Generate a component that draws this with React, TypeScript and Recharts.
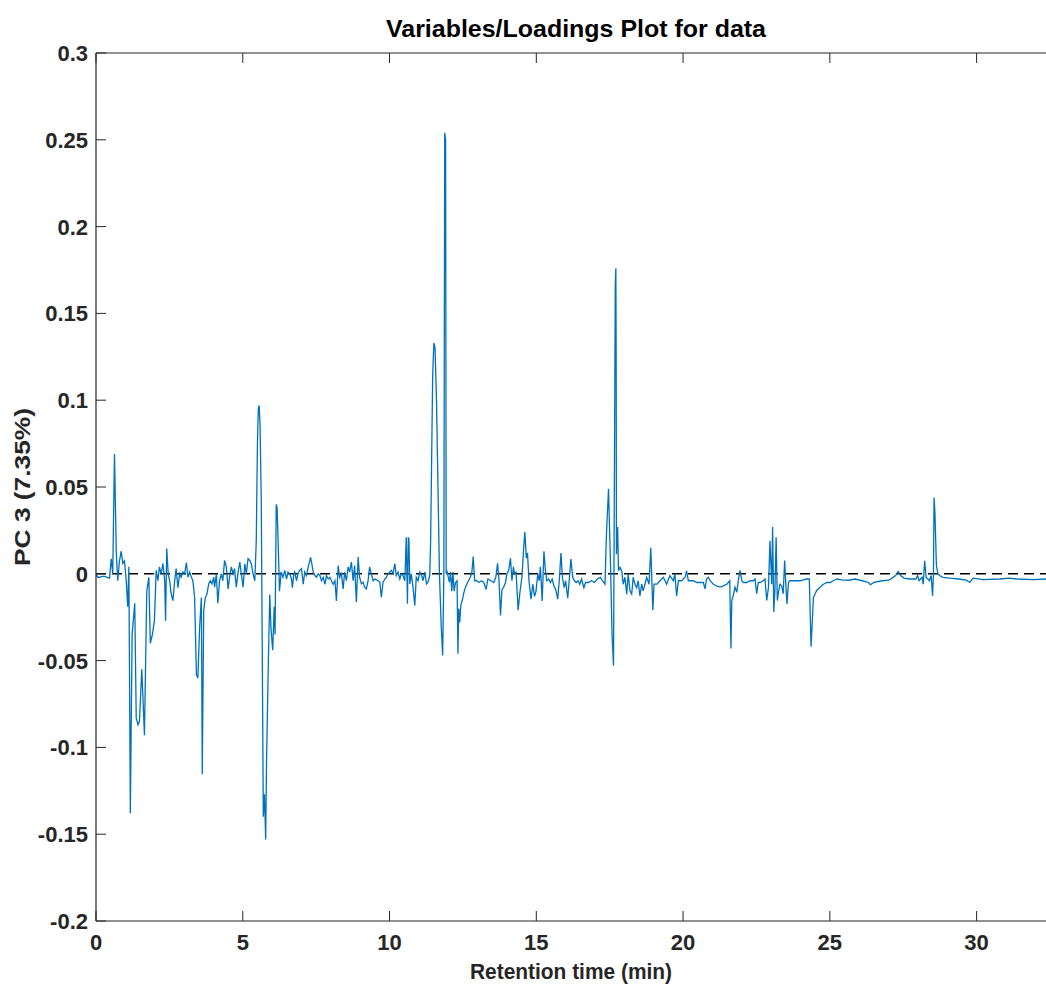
import React from 'react';
import { LineChart, Line, XAxis, YAxis, ReferenceLine } from 'recharts';

const times = [
  0.00, 0.06, 0.12, 0.20, 0.29, 0.38, 0.46, 0.52, 0.57, 0.63, 0.69, 0.74, 0.80, 0.86, 0.91, 0.97,
  1.03, 1.08, 1.12, 1.17, 1.23, 1.32, 1.37, 1.43, 1.48, 1.56, 1.65, 1.73, 1.80, 1.85, 1.92, 1.99,
  2.05, 2.11, 2.16, 2.22, 2.28, 2.34, 2.37, 2.41, 2.46, 2.51, 2.56, 2.62, 2.68, 2.73, 2.79, 2.85,
  2.90, 2.96, 3.02, 3.08, 3.13, 3.19, 3.25, 3.30, 3.36, 3.42, 3.47, 3.53, 3.59, 3.62, 3.67, 3.72,
  3.78, 3.84, 3.89, 3.95, 4.01, 4.04, 4.10, 4.15, 4.21, 4.27, 4.32, 4.38, 4.44, 4.50, 4.55, 4.61,
  4.67, 4.72, 4.78, 4.84, 4.90, 4.95, 5.01, 5.07, 5.12, 5.18, 5.24, 5.29, 5.35, 5.41, 5.46, 5.50,
  5.53, 5.56, 5.59, 5.63, 5.67, 5.70, 5.74, 5.78, 5.81, 5.87, 5.92, 5.96, 6.02, 6.07, 6.10, 6.14,
  6.17, 6.21, 6.25, 6.31, 6.37, 6.43, 6.49, 6.54, 6.60, 6.66, 6.69, 6.74, 6.77, 6.83, 6.88, 6.94,
  7.00, 7.06, 7.11, 7.17, 7.23, 7.31, 7.36, 7.40, 7.46, 7.51, 7.57, 7.63, 7.68, 7.74, 7.80, 7.85,
  7.91, 7.97, 8.02, 8.08, 8.14, 8.19, 8.25, 8.30, 8.36, 8.42, 8.47, 8.53, 8.59, 8.64, 8.70, 8.76,
  8.81, 8.87, 8.93, 8.98, 9.04, 9.10, 9.15, 9.21, 9.27, 9.32, 9.38, 9.44, 9.50, 9.55, 9.61, 9.67,
  9.72, 9.78, 9.84, 9.89, 9.95, 10.01, 10.06, 10.12, 10.18, 10.23, 10.29, 10.35, 10.40, 10.46, 10.52, 10.57,
  10.61, 10.64, 10.66, 10.69, 10.74, 10.80, 10.86, 10.91, 10.97, 11.03, 11.09, 11.14, 11.20, 11.26, 11.31, 11.37,
  11.40, 11.43, 11.47, 11.51, 11.55, 11.60, 11.65, 11.70, 11.76, 11.81, 11.85, 11.88, 11.91, 11.93, 11.95, 11.99,
  12.04, 12.08, 12.12, 12.16, 12.20, 12.25, 12.30, 12.33, 12.36, 12.39, 12.43, 12.48, 12.53, 12.58, 12.63, 12.69,
  12.75, 12.80, 12.85, 12.90, 12.97, 13.05, 13.13, 13.21, 13.29, 13.35, 13.45, 13.55, 13.62, 13.68, 13.73, 13.78,
  13.83, 13.88, 13.95, 14.00, 14.06, 14.12, 14.17, 14.22, 14.26, 14.31, 14.38, 14.44, 14.51, 14.57, 14.61, 14.66,
  14.70, 14.75, 14.82, 14.88, 14.94, 14.99, 15.05, 15.10, 15.14, 15.20, 15.26, 15.31, 15.36, 15.42, 15.48, 15.54,
  15.60, 15.66, 15.73, 15.79, 15.84, 15.89, 15.95, 16.00, 16.07, 16.12, 16.18, 16.24, 16.30, 16.36, 16.42, 16.48,
  16.54, 16.62, 16.68, 16.78, 16.88, 16.98, 17.08, 17.18, 17.25, 17.30, 17.34, 17.39, 17.46, 17.53, 17.58, 17.63,
  17.67, 17.69, 17.71, 17.72, 17.73, 17.77, 17.80, 17.85, 17.91, 17.96, 18.02, 18.08, 18.13, 18.19, 18.25, 18.30,
  18.36, 18.42, 18.47, 18.53, 18.59, 18.64, 18.70, 18.76, 18.84, 18.90, 18.97, 19.01, 19.11, 19.21, 19.33, 19.44,
  19.55, 19.67, 19.72, 19.78, 19.84, 19.95, 20.07, 20.12, 20.18, 20.35, 20.47, 20.58, 20.69, 20.75, 20.80, 20.86,
  20.92, 21.03, 21.14, 21.26, 21.37, 21.49, 21.54, 21.59, 21.63, 21.66, 21.71, 21.77, 21.83, 21.88, 21.94, 22.00,
  22.05, 22.17, 22.28, 22.39, 22.45, 22.51, 22.56, 22.62, 22.73, 22.79, 22.85, 22.91, 22.96, 23.02, 23.05, 23.09,
  23.13, 23.17, 23.21, 23.26, 23.30, 23.36, 23.41, 23.46, 23.51, 23.54, 23.59, 23.64, 23.76, 23.87, 23.99, 24.10,
  24.21, 24.30, 24.36, 24.42, 24.44, 24.50, 24.55, 24.67, 24.78, 24.90, 25.01, 25.12, 25.24, 25.40, 25.64, 25.86,
  26.10, 26.32, 26.38, 26.50, 26.78, 27.01, 27.12, 27.24, 27.33, 27.41, 27.53, 27.70, 27.93, 27.99, 28.04, 28.14,
  28.18, 28.23, 28.28, 28.39, 28.45, 28.50, 28.53, 28.55, 28.58, 28.63, 28.68, 28.74, 28.85, 29.08, 29.40, 29.65,
  29.77, 29.88, 30.22, 30.80, 31.09, 31.37, 31.95, 32.37,
];

const loadings = [
  0, -0.002, -0.002, -0.0015, -0.0015, -0.002, -0.0025, 0.0087, 0.0, 0.069, 0.013, -0.004, 0.0075, 0.013, 0.006, 0.0075,
  -0.004, -0.019, 0.004, -0.138, -0.035, -0.017, -0.083, -0.087, -0.085, -0.055, -0.093, -0.010, -0.002, -0.040, -0.035, -0.027,
  0.002, -0.004, 0.004, 0.0, 0.006, -0.004, -0.027, 0.0145, 0.0, -0.004, -0.0115, -0.0155, -0.004, 0.003, -0.008, 0.0,
  -0.002, 0.001, 0.0, 0.0065, -0.002, 0.001, -0.002, -0.004, -0.0137, -0.058, -0.060, -0.031, -0.0137, -0.1155, -0.021, -0.014,
  -0.0115, -0.0058, -0.004, -0.0058, -0.002, -0.0077, 0.0, -0.017, -0.004, 0.0, -0.004, 0.0077, 0.004, -0.0087, -0.002, 0.004,
  0.0, 0.003, -0.0077, 0.001, 0.0067, 0.0, -0.0077, 0.0058, 0.0, 0.0087, 0.0077, 0.0058, 0.0, -0.004, 0.019, 0.075,
  0.095, 0.097, 0.085, 0.042, -0.06, -0.140, -0.127, -0.153, -0.108, -0.052, -0.012, -0.031, -0.044, -0.019, -0.035, 0.040,
  0.038, 0.015, -0.010, 0.001, -0.002, 0.002, -0.003, 0.001, 0.0, -0.003, -0.008, 0.0, 0.001, -0.004, 0.0, 0.002,
  0.003, -0.006, 0.001, -0.001, 0.004, 0.0094, 0.005, 0.001, -0.001, -0.002, 0.0, -0.001, -0.004, -0.002, -0.006, -0.001,
  -0.003, -0.002, -0.004, -0.006, -0.004, -0.0156, 0.0048, -0.002, 0.0, -0.0087, 0.001, -0.004, 0.004, 0.001, 0.0067, -0.004,
  0.0048, -0.0163, 0.0096, -0.002, -0.0058, -0.0048, -0.0077, -0.0087, -0.004, 0.004, 0.0, -0.004, -0.003, -0.0035, -0.004, -0.0048,
  -0.0135, -0.0048, -0.003, -0.002, 0.0, 0.001, 0.002, 0.0, 0.0058, -0.001, 0.001, -0.003, 0.0, -0.001, -0.004, 0.021,
  -0.0173, 0.021, 0.020, -0.0058, 0.0, -0.0077, -0.0183, -0.002, -0.004, 0.001, -0.001, -0.004, 0.001, -0.0058, -0.0048, -0.001,
  0.019, 0.060, 0.115, 0.133, 0.130, 0.100, 0.050, 0.000, -0.030, -0.047, 0.000, 0.254, 0.250, 0.000, 0.002, -0.001,
  -0.005, 0.001, -0.010, 0.001, -0.010, -0.005, -0.004, -0.046, -0.020, -0.028, -0.018, -0.015, -0.011, -0.008, -0.006, -0.004,
  -0.002, 0.0, 0.010, -0.004, -0.004, -0.005, -0.004, -0.005, -0.009, -0.003, -0.004, -0.005, -0.002, 0.006, -0.004, -0.024,
  -0.009, -0.008, -0.005, 0.0, 0.002, 0.009, -0.004, 0.004, 0.0, 0.001, -0.021, -0.011, -0.002, 0.015, 0.024, 0.009,
  0.012, -0.004, -0.0146, -0.006, -0.013, -0.010, 0.0, -0.004, 0.004, -0.0156, 0.013, 0.002, -0.004, -0.003, -0.005, -0.003,
  -0.007, -0.009, -0.0146, -0.002, 0.012, -0.002, -0.008, -0.004, -0.014, -0.004, 0.0085, -0.002, -0.004, -0.005, -0.004, -0.006,
  -0.003, -0.008, -0.005, -0.005, -0.004, -0.005, -0.003, -0.002, -0.004, -0.005, -0.006, 0.023, 0.049, 0.004, -0.035, -0.053,
  0.090, 0.167, 0.176, 0.129, 0.0113, 0.027, 0.0017, 0.0037, 0.0017, -0.006, -0.002, -0.0117, 0.0, -0.0098, -0.0117, -0.002,
  -0.006, -0.008, -0.004, -0.0127, -0.006, -0.0098, -0.006, -0.002, -0.006, 0.015, -0.021, -0.006, -0.006, -0.004, -0.002, -0.006,
  -0.001, -0.004, 0.0, -0.0127, -0.004, -0.004, -0.002, 0.0017, -0.004, -0.004, -0.005, -0.005, -0.005, -0.0087, -0.003, -0.002,
  -0.004, -0.006, -0.007, -0.0077, -0.007, -0.006, -0.005, -0.004, -0.043, -0.0154, -0.0125, -0.0077, -0.0106, -0.004, 0.002, -0.004,
  -0.005, -0.005, -0.004, -0.004, -0.003, -0.0115, -0.005, -0.005, -0.004, -0.003, -0.0154, -0.0077, 0.019, -0.006, 0.027, -0.022,
  -0.0087, 0.021, -0.0154, -0.0096, -0.006, -0.007, -0.0115, 0.0077, -0.0096, -0.0173, -0.005, -0.004, -0.004, -0.004, -0.004, -0.0035,
  -0.003, -0.003, -0.042, -0.021, -0.0135, -0.0115, -0.0096, -0.0077, -0.006, -0.005, -0.005, -0.004, -0.003, -0.0035, -0.0037, -0.003,
  -0.004, -0.005, -0.0063, -0.005, -0.004, -0.0037, -0.0025, -0.001, 0.0013, -0.001, -0.0025, -0.003, -0.003, -0.001, -0.004, -0.002,
  -0.006, 0.0075, -0.002, -0.004, -0.001, -0.0127, 0.0, 0.044, 0.035, 0.005, 0.0, -0.001, -0.002, -0.0025, -0.003, -0.0037,
  -0.005, -0.0025, -0.0033, -0.003, -0.0025, -0.003, -0.0033, -0.003,
];

const xTicks = [0, 5, 10, 15, 20, 25, 30];
const yTicks = [-0.2, -0.15, -0.1, -0.05, 0, 0.05, 0.1, 0.15, 0.2, 0.25, 0.3];

const titleText = 'Variables/Loadings Plot for data';
const xLabelText = 'Retention time (min)';
const yLabelText = 'PC 3 (7.35%)';

const data = times.map((t, i) => ({ t, v: loadings[i] }));

const FONT = '"Liberation Sans", Arial, Helvetica, sans-serif';
const AXIS = '#262626';
const TICK_LEN = 10;
const X_GAP = 13;
const Y_GAP = 8;

const fmt = (v: number) => String(Math.round(v * 100) / 100);

const BottomTick = (props: any) => {
  const { x, y, payload } = props;
  const axisY = y - X_GAP;
  return (
    <g>
      <line x1={x} y1={axisY} x2={x} y2={axisY - TICK_LEN} stroke={AXIS} strokeWidth={1} />
      <text x={x} y={y} dy="0.71em" textAnchor="middle" fontSize={22} fontWeight="bold" fill={AXIS} fontFamily={FONT}>
        {fmt(payload.value)}
      </text>
    </g>
  );
};

const TopTick = (props: any) => {
  const { x, y } = props;
  return <line x1={x} y1={y} x2={x} y2={y + TICK_LEN} stroke={AXIS} strokeWidth={1} />;
};

const LeftTick = (props: any) => {
  const { x, y, payload } = props;
  const axisX = x + Y_GAP;
  return (
    <g>
      <line x1={axisX} y1={y} x2={axisX + TICK_LEN} y2={y} stroke={AXIS} strokeWidth={1} />
      <text x={x} y={y} dy="0.36em" textAnchor="end" fontSize={22} fontWeight="bold" fill={AXIS} fontFamily={FONT}>
        {fmt(payload.value)}
      </text>
    </g>
  );
};

export default function App() {
  return (
    <div style={{ position: 'absolute', left: 0, top: 0, width: 1046, height: 988, overflow: 'hidden', background: '#fff', fontFamily: FONT }}>
      <LineChart width={1060} height={988} data={data} margin={{ top: 52, right: 10, bottom: 0, left: 0 }}>
        <XAxis
          xAxisId="b"
          dataKey="t"
          type="number"
          domain={[0, 32.5]}
          ticks={xTicks}
          orientation="bottom"
          height={67}
          tickSize={0}
          tickMargin={X_GAP}
          tick={<BottomTick />}
          tickLine={false}
          axisLine={{ stroke: AXIS, strokeWidth: 1.2 }}
          allowDataOverflow
        />
        <XAxis
          xAxisId="t"
          dataKey="t"
          type="number"
          domain={[0, 32.5]}
          ticks={xTicks}
          orientation="top"
          height={1}
          tickSize={0}
          tickMargin={0}
          tick={<TopTick />}
          tickLine={false}
          axisLine={{ stroke: AXIS, strokeWidth: 1.2 }}
          allowDataOverflow
        />
        <YAxis
          dataKey="v"
          type="number"
          domain={[-0.2, 0.3]}
          ticks={yTicks}
          width={96}
          tickSize={0}
          tickMargin={Y_GAP}
          tick={<LeftTick />}
          tickLine={false}
          axisLine={{ stroke: AXIS, strokeWidth: 1.2 }}
          allowDataOverflow
        />
        <ReferenceLine xAxisId="b" y={0} stroke="#000" strokeWidth={1.5} strokeDasharray="10 6" />
        <Line
          xAxisId="b"
          type="linear"
          dataKey="v"
          stroke="#0072BD"
          strokeWidth={1.3}
          dot={false}
          isAnimationActive={false}
        />
        <Line
          xAxisId="t"
          type="linear"
          dataKey="v"
          stroke="none"
          dot={false}
          legendType="none"
          isAnimationActive={false}
        />
      </LineChart>
      <svg width={1046} height={988} style={{ position: 'absolute', left: 0, top: 0, pointerEvents: 'none' }}>
        <text x={576} y={37} textAnchor="middle" fontSize={24} fontWeight="bold" fill="#000" fontFamily={FONT} textLength={380} lengthAdjust="spacingAndGlyphs">{titleText}</text>
        <text x={571} y={979} textAnchor="middle" fontSize={22} fontWeight="bold" fill={AXIS} fontFamily={FONT} textLength={202} lengthAdjust="spacingAndGlyphs">{xLabelText}</text>
        <text x={30} y={487} textAnchor="middle" fontSize={22} fontWeight="bold" fill={AXIS} fontFamily={FONT} textLength={158} lengthAdjust="spacingAndGlyphs" transform="rotate(-90 30 487)">{yLabelText}</text>
      </svg>
    </div>
  );
}
